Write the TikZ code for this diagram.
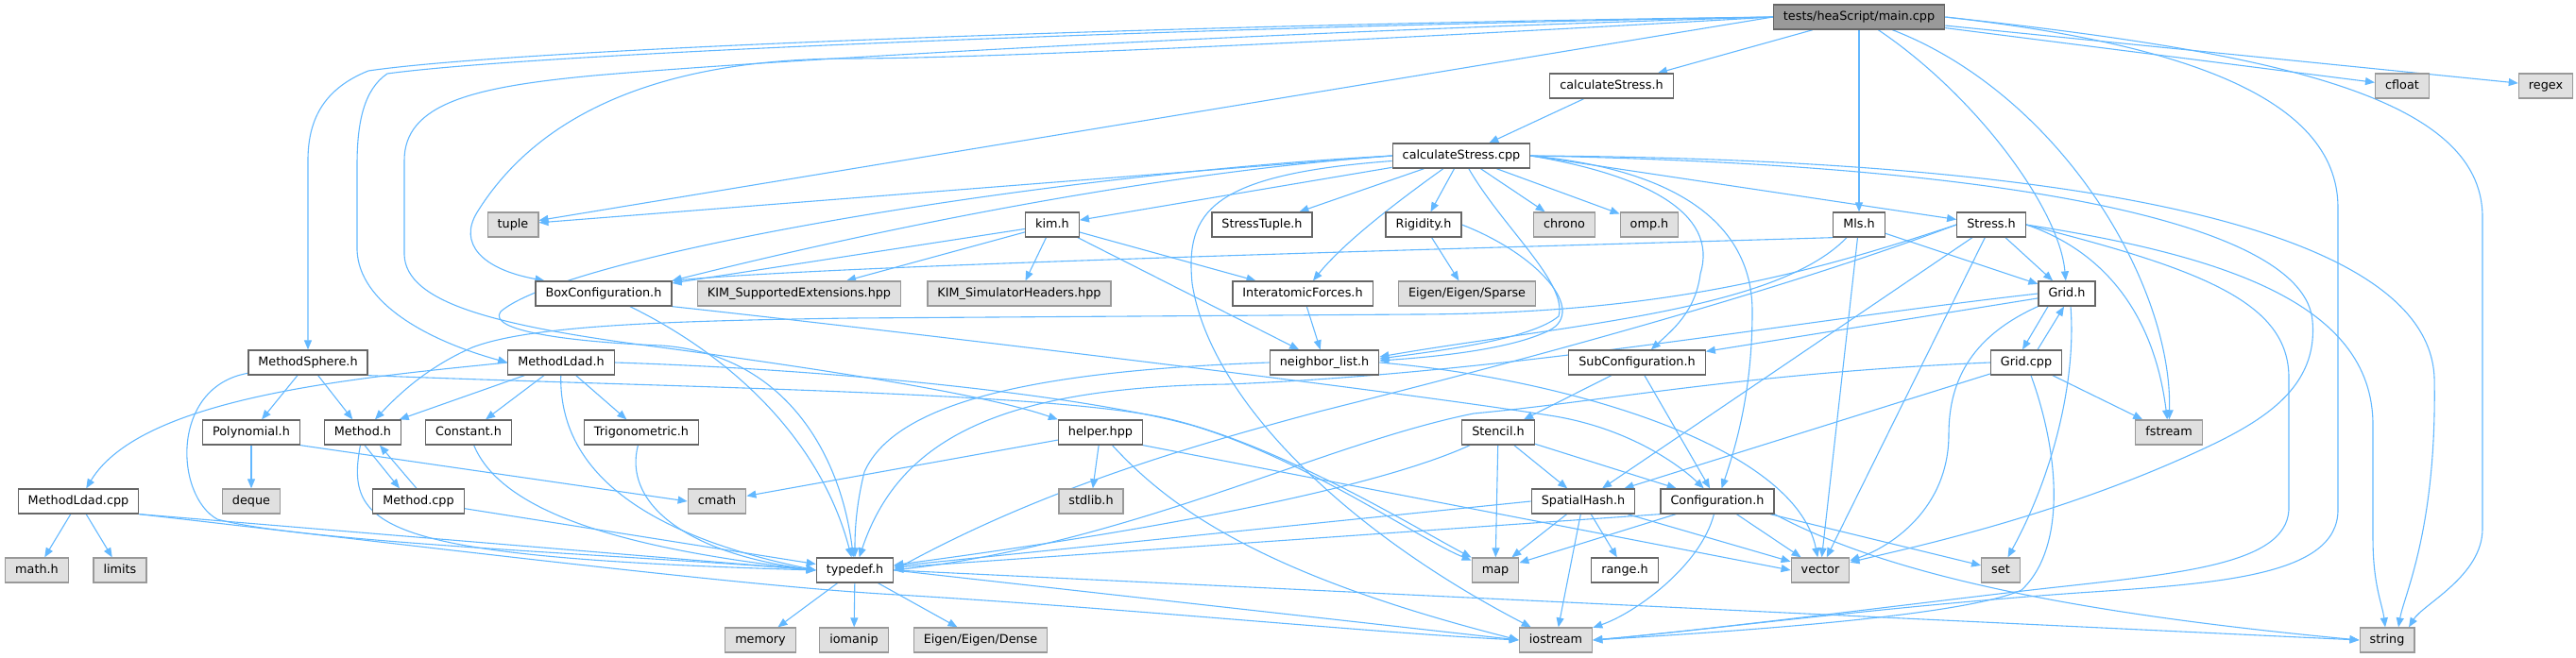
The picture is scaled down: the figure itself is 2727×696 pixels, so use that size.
\documentclass[tikz,border=0pt]{standalone}
\usepackage{fontspec}
\setmainfont{DejaVu Sans}
\usepackage{tikz}
\usetikzlibrary{arrows.meta}
\definecolor{edgeblue}{HTML}{63B8FF}
\definecolor{localline}{HTML}{666666}
\definecolor{sysline}{HTML}{999999}
\definecolor{sysfill}{HTML}{E0E0E0}
\definecolor{rootfill}{HTML}{999999}
\pgfdeclarelayer{edges}
\pgfsetlayers{edges,main}

\begin{document}
\begin{tikzpicture}[x=1pt, y=1pt,
  hdr/.style={rectangle, inner xsep=10.5pt, inner ysep=0pt, minimum height=26pt, text height=10pt, text depth=3pt, line width=1.3pt, font=\fontsize{12.8}{15}\selectfont},
  local/.style={hdr, draw=localline, fill=white},
  system/.style={hdr, draw=sysline, fill=sysfill},
  root/.style={hdr, draw=localline, fill=rootfill},
  inc/.style={draw=edgeblue, line width=1.1pt, -{Triangle[length=10pt,width=8pt]}}]
\useasboundingbox (0,0) rectangle (2727,-696);

\node[root] (main) at (1968,-18) {tests/heaScript/main.cpp};

\node[local] (calcH) at (1706,-91) {calculateStress.h};
\node[system] (cfloat) at (2543,-91) {cfloat};
\node[system] (regex) at (2695,-91) {regex};

\node[local] (calcCpp) at (1547,-165) {calculateStress.cpp};

\node[system] (tuple) at (543,-238) {tuple};
\node[local] (kim) at (1114,-238) {kim.h};
\node[local] (stuple) at (1336,-238) {StressTuple.h};
\node[local] (rigid) at (1507,-238) {Rigidity.h};
\node[system] (chrono) at (1656,-238) {chrono};
\node[system] (omp) at (1746,-238) {omp.h};
\node[local] (mls) at (1968,-238) {Mls.h};
\node[local] (stress) at (2108,-238) {Stress.h};

\node[local] (box) at (639,-311) {BoxConfiguration.h};
\node[system] (kimext) at (846,-311) {KIM\_SupportedExtensions.hpp};
\node[system] (kimsim) at (1079,-311) {KIM\_SimulatorHeaders.hpp};
\node[local] (iforce) at (1379,-311) {InteratomicForces.h};
\node[system] (sparse) at (1553,-311) {Eigen/Eigen/Sparse};
\node[local] (grid) at (2188,-311) {Grid.h};

\node[local] (msphere) at (326,-384) {MethodSphere.h};
\node[local] (mldad) at (594,-384) {MethodLdad.h};
\node[local] (nlist) at (1402,-384) {neighbor\_list.h};
\node[local] (subconf) at (1733,-384) {SubConfiguration.h};
\node[local] (gridcpp) at (2145,-384) {Grid.cpp};

\node[local] (poly) at (266,-458) {Polynomial.h};
\node[local] (method) at (384,-458) {Method.h};
\node[local] (const) at (496,-458) {Constant.h};
\node[local] (trig) at (679,-458) {Trigonometric.h};
\node[local] (helper) at (1165,-458) {helper.hpp};
\node[local] (stencil) at (1586,-458) {Stencil.h};
\node[system] (fstream) at (2296,-458) {fstream};

\node[local] (mldadcpp) at (83,-531) {MethodLdad.cpp};
\node[system] (deque) at (266,-531) {deque};
\node[local] (methodcpp) at (443,-531) {Method.cpp};
\node[system] (cmath) at (759,-531) {cmath};
\node[system] (stdlib) at (1155,-531) {stdlib.h};
\node[local] (shash) at (1676,-531) {SpatialHash.h};
\node[local] (conf) at (1818,-531) {Configuration.h};

\node[system] (mathh) at (39,-604) {math.h};
\node[system] (limits) at (127,-604) {limits};
\node[local] (typedef) at (905,-604) {typedef.h};
\node[system] (map) at (1583,-604) {map};
\node[local] (range) at (1720,-604) {range.h};
\node[system] (vector) at (1927,-604) {vector};
\node[system] (set) at (2118,-604) {set};

\node[system] (memory) at (805,-678) {memory};
\node[system] (iomanip) at (904,-678) {iomanip};
\node[system] (dense) at (1038,-678) {Eigen/Eigen/Dense};
\node[system] (iostream) at (1647,-678) {iostream};
\node[system] (string) at (2527,-678) {string};

\begin{pgfonlayer}{edges}
\draw[inc] (main) -- (calcH);
\draw[inc] (main) -- (mls);
\draw[inc] (main) -- (cfloat);
\draw[inc] (main) -- (regex);
\draw[inc] (main.west) -- (tuple);
\draw[inc] (main.west) .. controls (1500,-40) and (1050,-62) .. (900,-62) .. controls (700,-62) and (570,-120) .. (505,-225) .. controls (485,-258) and (510,-285) .. ([xshift=10pt]box.north west);
\draw[inc] (main.west) .. controls (1300,-25) and (560,-50) .. (390,-75) .. controls (340,-95) and (326,-130) .. (326,-170) -- (msphere);
\draw[inc] (main.west) .. controls (1300,-28) and (580,-55) .. (410,-78) .. controls (385,-95) and (378,-130) .. (378,-175) -- (378,-265) .. controls (380,-320) and (450,-360) .. (mldad.west);
\draw[inc] (main.west) .. controls (1300,-35) and (800,-65) .. (629,-80) .. controls (500,-92) and (428,-110) .. (428,-170) -- (428,-270) .. controls (430,-320) and (520,-345) .. (700,-368) .. controls (900,-395) and (1050,-420) .. (helper.north west);
\draw[inc] (main) .. controls (2090,-100) and (2180,-220) .. (grid);
\draw[inc] (main) .. controls (2180,-100) and (2300,-300) .. (fstream);
\draw[inc] (main.east) .. controls (2300,-45) and (2475,-100) .. (2475,-220) -- (2475,-540) .. controls (2475,-610) and (2350,-618) .. (2200,-628) .. controls (2000,-642) and (1800,-668) .. (iostream.east);
\draw[inc] (main.east) .. controls (2400,-55) and (2628,-100) .. (2628,-230) -- (2628,-560) .. controls (2628,-610) and (2565,-640) .. ([xshift=23pt]string.north);

\draw[inc] (calcH) -- (calcCpp);

\draw[inc] (calcCpp.west) -- (tuple);
\draw[inc] (calcCpp.west) .. controls (1200,-185) and (900,-250) .. (box.north east);
\draw[inc] (calcCpp) -- (kim);
\draw[inc] (calcCpp) -- (stuple);
\draw[inc] (calcCpp) -- (rigid);
\draw[inc] (calcCpp) -- (chrono);
\draw[inc] (calcCpp) -- (omp);
\draw[inc] (calcCpp.east) -- (stress);
\draw[inc] (calcCpp) .. controls (1470,-220) and (1420,-260) .. (iforce);
\draw[inc] (calcCpp) .. controls (1590,-240) and (1660,-300) .. (1650,-335) .. controls (1620,-360) and (1520,-372) .. ([yshift=4pt]nlist.east);
\draw[inc] (calcCpp.east) .. controls (1740,-185) and (1820,-225) .. (1800,-290) .. controls (1795,-330) and (1770,-350) .. (subconf);
\draw[inc] (calcCpp.east) .. controls (1780,-180) and (1855,-240) .. (1855,-330) .. controls (1855,-420) and (1835,-480) .. (conf);
\draw[inc] (calcCpp.west) .. controls (1100,-185) and (600,-270) .. (530,-330) .. controls (515,-350) and (600,-362) .. (700,-366) .. controls (830,-375) and (890,-480) .. (typedef);
\draw[inc] (calcCpp) .. controls (1280,-185) and (1255,-225) .. (1262,-300) .. controls (1280,-420) and (1420,-560) .. (iostream);
\draw[inc] (calcCpp.east) .. controls (2150,-175) and (2440,-240) .. (2448,-340) .. controls (2455,-420) and (2380,-455) .. (2300,-490) .. controls (2150,-555) and (2000,-585) .. (vector);
\draw[inc] (calcCpp.east) .. controls (2150,-168) and (2570,-230) .. (2577,-400) .. controls (2580,-560) and (2545,-630) .. ([xshift=12pt]string.north);

\draw[inc] (stress) -- (grid);
\draw[inc] (stress) -- (shash);
\draw[inc] (stress) -- (vector);
\draw[inc] (stress.east) .. controls (2225,-265) and (2280,-330) .. (fstream);
\draw[inc] (stress.east) .. controls (2350,-270) and (2512,-320) .. (2512,-450) -- (2512,-570) .. controls (2512,-620) and (2522,-640) .. ([xshift=-2pt]string.north);
\draw[inc] (stress.east) .. controls (2330,-285) and (2423,-320) .. (2423,-400) -- (2423,-540) .. controls (2420,-600) and (2300,-608) .. (2150,-625) .. controls (1980,-645) and (1800,-668) .. (iostream.east);
\draw[inc] (stress.west) .. controls (1900,-295) and (1750,-332) .. (1500,-333) -- (900,-337) .. controls (700,-340) and (560,-345) .. (500,-368) .. controls (450,-390) and (420,-420) .. (method);
\draw[inc] (stress.west) .. controls (1880,-310) and (1600,-385) .. (1400,-435) .. controls (1250,-475) and (1100,-520) .. (typedef.east);

\draw[inc] (mls) -- (grid);
\draw[inc] (mls) -- (vector);
\draw[inc] (mls.south west) .. controls (1600,-262) and (900,-280) .. (box.north east);
\draw[inc] (mls) .. controls (1880,-330) and (1650,-345) .. ([yshift=6pt]nlist.east);

\draw[inc] ([xshift=-20pt]grid.south) -- ([xshift=-4pt]gridcpp.north);
\draw[inc] ([xshift=12pt]gridcpp.north) -- ([xshift=-3pt]grid.south);
\draw[inc] (grid) -- (subconf);
\draw[inc] (grid.west) .. controls (1900,-340) and (1600,-395) .. (1300,-407) .. controls (1050,-410) and (950,-470) .. (typedef);
\draw[inc] (grid.south west) .. controls (2090,-355) and (2063,-400) .. (2063,-460) .. controls (2063,-540) and (2000,-580) .. (vector);
\draw[inc] ([xshift=4pt]grid.south) .. controls (2198,-400) and (2175,-500) .. (set);

\draw[inc] (gridcpp) -- (fstream);
\draw[inc] (gridcpp) -- (shash);
\draw[inc] (gridcpp.west) .. controls (1850,-395) and (1700,-425) .. (1560,-438) .. controls (1400,-470) and (1200,-575) .. (typedef.east);
\draw[inc] (gridcpp) .. controls (2180,-480) and (2188,-580) .. (2140,-625) .. controls (2080,-652) and (1850,-668) .. (iostream.east);

\draw[inc] (subconf) -- (stencil);
\draw[inc] (subconf) -- (conf);

\draw[inc] (stencil) -- (map);
\draw[inc] (stencil) -- (shash);
\draw[inc] (stencil) -- (conf);
\draw[inc] (stencil) .. controls (1450,-520) and (1200,-565) .. (typedef);

\draw[inc] (shash) -- (map);
\draw[inc] (shash) -- (range);
\draw[inc] (shash) -- (iostream);
\draw[inc] (shash) -- (vector);
\draw[inc] (shash.west) -- (typedef);

\draw[inc] (conf) -- (map);
\draw[inc] (conf) -- (vector);
\draw[inc] (conf) -- (set);
\draw[inc] (conf) .. controls (1800,-600) and (1730,-650) .. (iostream);
\draw[inc] (conf.south east) .. controls (2000,-610) and (2200,-650) .. (string.west);
\draw[inc] (conf.south west) -- (typedef);

\draw[inc] (nlist.west) .. controls (1120,-392) and (950,-420) .. (915,-500) .. controls (905,-540) and (905,-570) .. (typedef);
\draw[inc] (nlist.east) .. controls (1650,-400) and (1900,-470) .. (vector);

\draw[inc] (iforce) -- (nlist);
\draw[inc] (kim) -- (nlist);
\draw[inc] (kim) -- (iforce);
\draw[inc] (kim) -- (kimext);
\draw[inc] (kim) -- (kimsim);
\draw[inc] (kim) -- (box);
\draw[inc] (rigid) -- (sparse);
\draw[inc] (rigid.east) .. controls (1630,-270) and (1680,-330) .. (1640,-350) .. controls (1600,-370) and (1520,-378) .. ([yshift=2pt]nlist.east);

\draw[inc] (helper) -- (stdlib);
\draw[inc] (helper) -- (cmath);
\draw[inc] (helper.south east) -- (vector.west);
\draw[inc] (helper) .. controls (1240,-540) and (1340,-610) .. (iostream.west);

\draw[inc] (box.south east) .. controls (900,-345) and (1450,-410) .. (1640,-440) .. controls (1720,-452) and (1775,-490) .. (conf);
\draw[inc] (box) .. controls (780,-380) and (870,-470) .. (typedef);

\draw[inc] (msphere) -- (poly);
\draw[inc] (msphere) -- (method);
\draw[inc] (msphere) .. controls (180,-410) and (185,-525) .. (230,-550) .. controls (320,-575) and (700,-590) .. (typedef.west);
\draw[inc] (msphere.south east) .. controls (700,-410) and (1100,-415) .. (1230,-442) .. controls (1350,-468) and (1500,-560) .. (map);

\draw[inc] (mldad.west) .. controls (380,-400) and (150,-420) .. (mldadcpp);
\draw[inc] (mldad) -- (method);
\draw[inc] (mldad) -- (const);
\draw[inc] (mldad) -- (trig);
\draw[inc] (mldad) .. controls (592,-480) and (650,-560) .. (typedef.west);
\draw[inc] (mldad.east) .. controls (900,-392) and (1150,-420) .. (1260,-450) .. controls (1380,-485) and (1500,-570) .. (map);

\draw[inc] ([xshift=2pt]method.south) -- ([xshift=-20pt]methodcpp.north);
\draw[inc] ([xshift=-2pt]methodcpp.north) -- ([xshift=18pt]method.south);
\draw[inc] (method) .. controls (365,-560) and (400,-590) .. (typedef.west);
\draw[inc] (methodcpp) -- (typedef);
\draw[inc] (const) .. controls (530,-540) and (650,-580) .. (typedef.west);
\draw[inc] (trig) .. controls (660,-530) and (720,-585) .. (typedef.west);

\draw[inc] (poly) -- (deque);
\draw[inc] (poly.south east) -- (cmath.west);

\draw[inc] (mldadcpp) -- (mathh);
\draw[inc] (mldadcpp) -- (limits);
\draw[inc] (mldadcpp.south east) -- (typedef.west);
\draw[inc] (mldadcpp.south east) .. controls (500,-585) and (800,-622) .. (950,-630) .. controls (1200,-645) and (1450,-670) .. (iostream.west);

\draw[inc] (typedef) -- (memory);
\draw[inc] (typedef) -- (iomanip);
\draw[inc] (typedef) -- (dense);
\draw[inc] (typedef.east) -- (iostream.west);
\draw[inc] (typedef.east) -- (string.west);
\end{pgfonlayer}
\end{tikzpicture}
\end{document}
